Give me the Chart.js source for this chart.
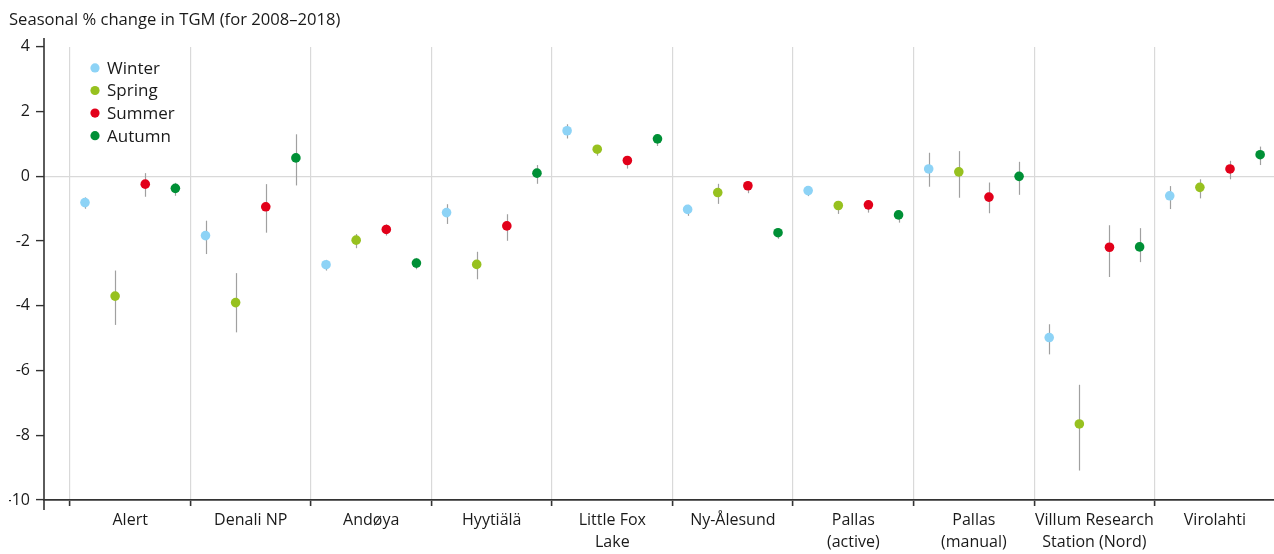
<!DOCTYPE html>
<html>
<head>
<meta charset="utf-8">
<script src="https://cdn.jsdelivr.net/npm/chart.js@4/dist/chart.umd.min.js"></script>
<style>
  html, body { margin: 0; padding: 0; background: #ffffff; }
  canvas { display: block; }
</style>
</head>
<body>
<canvas id="chart" width="1274" height="554"></canvas>
<script>
// Measurement sites (multi-line names as arrays)
const sites = ['Alert', 'Denali NP', 'Andøya', 'Hyytiälä', ['Little Fox', 'Lake'], 'Ny-Ålesund',
  ['Pallas', '(active)'], ['Pallas', '(manual)'], ['Villum Research', 'Station (Nord)'], 'Virolahti'];
const seasons = ['Winter', 'Spring', 'Summer', 'Autumn'];
const seasonColors = ['#8dd3f6', '#97c11f', '#e2001a', '#009036'];

// Seasonal % change in TGM per site, with uncertainty range (low / high)
const winter     = [-0.81, -1.83, -2.73, -1.12, 1.41, -1.02, -0.44,  0.23, -4.98, -0.60];
const winterLow  = [-1.00, -2.40, -2.91, -1.47, 1.17, -1.22, -0.61, -0.32, -5.50, -1.01];
const winterHigh = [-0.65, -1.37, -2.58, -0.86, 1.61, -0.88, -0.30,  0.73, -4.57, -0.30];

const spring     = [-3.70, -3.90, -1.97, -2.72, 0.84, -0.50, -0.90,  0.14, -7.65, -0.34];
const springLow  = [-4.59, -4.82, -2.22, -3.18, 0.64, -0.85, -1.16, -0.66, -9.09, -0.68];
const springHigh = [-2.91, -2.99, -1.78, -2.33, 0.97, -0.23, -0.76,  0.78, -6.44, -0.09];

const summer     = [-0.24, -0.94, -1.64, -1.53, 0.49, -0.29, -0.88, -0.64, -2.19,  0.23];
const summerLow  = [-0.63, -1.74, -1.83, -1.99, 0.24, -0.52, -1.12, -1.14, -3.11, -0.09];
const summerHigh = [ 0.10, -0.24, -1.48, -1.17, 0.62, -0.15, -0.75, -0.19, -1.51,  0.48];

const autumn     = [-0.37,  0.57, -2.68,  0.10, 1.16, -1.74, -1.19,  0.00, -2.18,  0.67];
const autumnLow  = [-0.60, -0.28, -2.87, -0.23, 0.94, -1.93, -1.43, -0.57, -2.65,  0.35];
const autumnHigh = [-0.20,  1.30, -2.52,  0.35, 1.30, -1.60, -1.05,  0.45, -1.60,  0.92];

const yTicks = [4, 2, 0, -2, -4, -6, -8, -10];

const FONT = "'Open Sans', 'Noto Sans', sans-serif";
const TEXT = '#1a1a1a';
const AXIS = '#333333';

const seriesValues = [winter, spring, summer, autumn];
const seriesLow = [winterLow, springLow, summerLow, autumnLow];
const seriesHigh = [winterHigh, springHigh, summerHigh, autumnHigh];

// Each site occupies one unit on the x scale; the four seasons sit at quarter slots inside it
const datasets = seasons.map((name, s) => ({
  label: name,
  data: seriesValues[s].map((v, i) => ({
    x: i + (s + 0.5) / 4,
    y: v,
    low: seriesLow[s][i],
    high: seriesHigh[s][i]
  })),
  backgroundColor: seasonColors[s],
  pointBackgroundColor: seasonColors[s],
  pointBorderWidth: 0,
  pointRadius: 4.8,
  pointHoverRadius: 4.8,
  showLine: false
}));

// Vertical uncertainty whiskers behind the points
const errorBars = {
  id: 'errorBars',
  beforeDatasetsDraw(chart) {
    const { ctx, scales: { x, y } } = chart;
    ctx.save();
    ctx.strokeStyle = '#a0a0a0';
    ctx.lineWidth = 1.2;
    chart.data.datasets.forEach(ds => {
      ds.data.forEach(p => {
        const px = Math.round(x.getPixelForValue(p.x)) + 0.5;
        ctx.beginPath();
        ctx.moveTo(px, y.getPixelForValue(p.low));
        ctx.lineTo(px, y.getPixelForValue(p.high));
        ctx.stroke();
      });
    });
    ctx.restore();
  }
};

// Season key in the upper-left corner of the plot
const seasonKey = {
  id: 'seasonKey',
  afterDatasetsDraw(chart) {
    const { ctx, chartArea } = chart;
    ctx.save();
    ctx.font = `17px ${FONT}`;
    ctx.textBaseline = 'middle';
    ctx.textAlign = 'left';
    chart.data.datasets.forEach((ds, i) => {
      const cy = chartArea.top + 21 + i * 22.6;
      const cx = chartArea.left + 51;
      ctx.fillStyle = ds.backgroundColor;
      ctx.beginPath();
      ctx.arc(cx, cy, 4.6, 0, Math.PI * 2);
      ctx.fill();
      ctx.fillStyle = TEXT;
      ctx.fillText(ds.label, cx + 12, cy + 1);
    });
    ctx.restore();
  }
};

// Value axis line, running slightly past both ends of the plot
const valueAxisLine = {
  id: 'valueAxisLine',
  afterDraw(chart) {
    const { ctx, chartArea } = chart;
    ctx.save();
    ctx.strokeStyle = AXIS;
    ctx.lineWidth = 1.6;
    ctx.beginPath();
    ctx.moveTo(chartArea.left, chartArea.top - 9);
    ctx.lineTo(chartArea.left, chartArea.bottom + 10);
    ctx.stroke();
    ctx.restore();
  }
};

const isBoundary = v => Math.abs(v - Math.round(v)) < 0.01;

new Chart(document.getElementById('chart'), {
  type: 'scatter',
  data: { datasets },
  plugins: [errorBars, seasonKey, valueAxisLine],
  options: {
    responsive: false,
    animation: false,
    devicePixelRatio: 1,
    layout: { autoPadding: false, padding: { left: 9, right: 0, top: 0, bottom: 0 } },
    plugins: {
      legend: { display: false },
      tooltip: { enabled: false },
      title: {
        display: true,
        text: 'Seasonal % change in TGM (for 2008–2018)',
        align: 'start',
        color: TEXT,
        font: { family: FONT, size: 16.6, weight: 'normal' },
        padding: { top: 10, bottom: 17 }
      }
    },
    scales: {
      x: {
        type: 'linear',
        min: -0.215,
        max: 9.99,
        afterBuildTicks(scale) {
          const t = [];
          for (let i = 0; i < sites.length; i++) {
            t.push({ value: i });
            t.push({ value: i + 0.5 });
          }
          scale.ticks = t;
        },
        afterFit(scale) { scale.height = 54; },
        ticks: {
          autoSkip: false,
          maxRotation: 0,
          minRotation: 0,
          padding: 3,
          color: TEXT,
          font: { family: FONT, size: 16, lineHeight: 1.4 },
          callback(value) {
            return isBoundary(value) ? '' : sites[Math.floor(value)];
          }
        },
        grid: {
          drawTicks: true,
          tickLength: 6,
          lineWidth: 1.2,
          color: ctx => (ctx.tick && isBoundary(ctx.tick.value)) ? '#d9d9d9' : 'rgba(0,0,0,0)',
          tickColor: ctx => (ctx.tick && isBoundary(ctx.tick.value)) ? AXIS : 'rgba(0,0,0,0)',
          tickWidth: 1.6
        },
        border: { display: true, color: AXIS, width: 1.8 }
      },
      y: {
        min: -10,
        max: 4,
        afterBuildTicks(scale) {
          scale.ticks = yTicks.map(v => ({ value: v }));
        },
        afterFit(scale) { scale.width = 35; },
        ticks: {
          padding: 6,
          color: TEXT,
          font: { family: FONT, size: 16 },
          callback: v => String(v)
        },
        grid: {
          drawTicks: true,
          tickLength: 8,
          lineWidth: 1.2,
          color: ctx => (ctx.tick && ctx.tick.value === 0) ? '#d9d9d9' : 'rgba(0,0,0,0)',
          tickColor: AXIS,
          tickWidth: 1.4
        },
        border: { display: false }
      }
    }
  }
});
</script>
</body>
</html>
